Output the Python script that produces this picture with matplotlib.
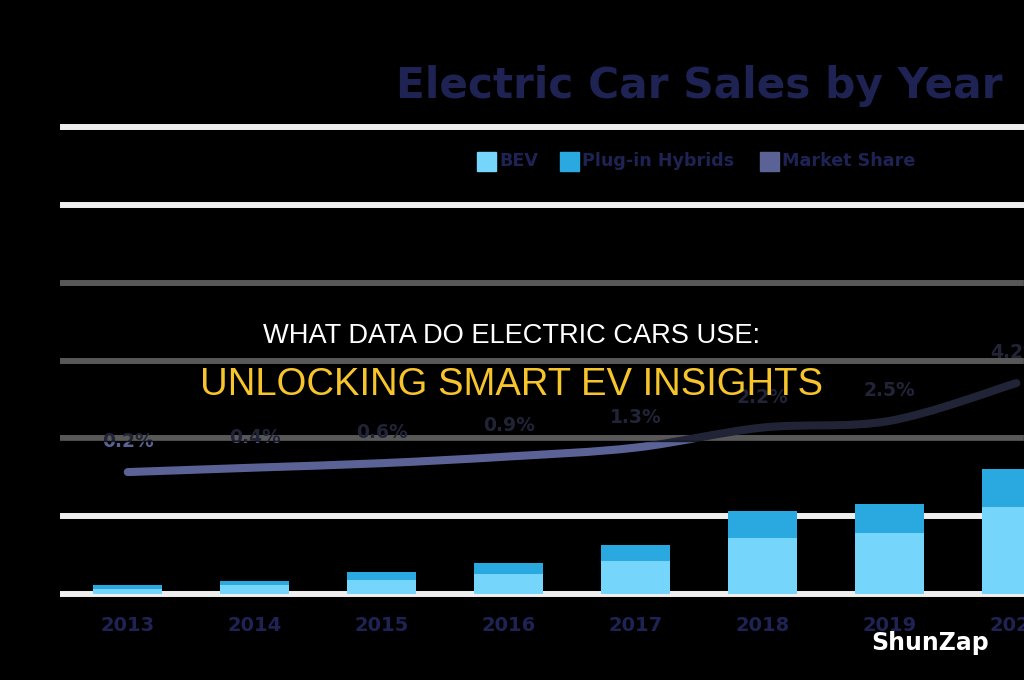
import matplotlib
matplotlib.use("Agg")
import matplotlib.pyplot as plt
from matplotlib.patches import Rectangle, PathPatch
from matplotlib.path import Path

# ---- data ----
years = ['2013', '2014', '2015', '2016', '2017', '2018', '2019', '2020']
bev = [32, 56, 88, 130, 212, 360, 392, 559]        # thousands (approx.)
phev = [26, 28, 53, 69, 103, 173, 186, 244]        # thousands (approx.)
share = [0.2, 0.4, 0.6, 0.9, 1.3, 2.2, 2.5, 4.2]   # market share, %
share_labels = ['0.2%', '0.4%', '0.6%', '0.9%', '1.3%', '2.2%', '2.5%', '4.2%']
legend_labels = ['BEV', 'Plug-in Hybrids', 'Market Share']

# ---- style ----
BG = '#000000'
GRID = '#efefef'
NAVY = '#1f2354'
C_BEV = '#76d5fa'
C_PHEV = '#29a9e0'
C_LINE = '#5b6396'
GOLD = '#f7c52b'

W, H = 1024, 680
def fx(px): return px / W
def fy(py): return 1 - py / H

fig = plt.figure(figsize=(10.24, 6.8), dpi=100, facecolor=BG)

ax = fig.add_axes([fx(63), fy(594), fx(1024) - fx(63), fy(127) - fy(594)])
ax.set_facecolor(BG)
x = list(range(len(years)))
step = 500
ax.set_ylim(0, 6 * step)
ax.set_xlim(-0.51, 7.06)
ax.set_yticks([i * step for i in range(7)])
ax.yaxis.grid(True, color=GRID, linewidth=4.3)
ax.set_axisbelow(True)
for gl in ax.get_ygridlines():
    gl.set_clip_on(False)
ax.tick_params(axis='y', length=0, labelleft=False)
ax.set_xticks(x)
ax.set_xticklabels(years, fontsize=14, fontweight='bold', color=NAVY)
ax.tick_params(axis='x', length=0, pad=16)
for s in ax.spines.values():
    s.set_visible(False)

ax.bar(x, bev, width=0.54, color=C_BEV, zorder=3)
ax.bar(x, phev, width=0.54, bottom=bev, color=C_PHEV, zorder=3)

ax2 = ax.twinx()
ax2.set_ylim(-5.28, 15.71)
ax2.set_xlim(ax.get_xlim())
ax2.set_axis_off()

# smooth (Bezier) line through the market-share points
pts = list(zip(x, share))
verts = [pts[0]]
codes = [Path.MOVETO]
n = len(pts)
for i in range(n - 1):
    p0 = pts[i - 1] if i > 0 else pts[i]
    p1 = pts[i]
    p2 = pts[i + 1]
    p3 = pts[i + 2] if i + 2 < n else pts[i + 1]
    c1 = (p1[0] + (p2[0] - p0[0]) / 6, p1[1] + (p2[1] - p0[1]) / 6)
    c2 = (p2[0] - (p3[0] - p1[0]) / 6, p2[1] - (p3[1] - p1[1]) / 6)
    verts += [c1, c2, p2]
    codes += [Path.CURVE4] * 3
ax2.add_patch(PathPatch(Path(verts, codes), facecolor='none', edgecolor=C_LINE,
                        linewidth=5.8, capstyle='round', joinstyle='round', zorder=4))

for xi, v, lab in zip(x, share, share_labels):
    ax2.annotate(lab, (xi, v), xytext=(0, 22), textcoords='offset points',
                 ha='center', va='center', fontsize=13.5, fontweight='bold',
                 color=C_LINE, annotation_clip=False)

# title
fig.text(fx(1003), fy(98), 'Electric Car Sales by Year', ha='right', va='baseline',
         fontsize=30.4, fontweight='bold', color=NAVY)

# legend (manual)
leg_colors = [C_BEV, C_PHEV, C_LINE]
sq_x = [477, 560, 760]
for lab, col, sx in zip(legend_labels, leg_colors, sq_x):
    fig.add_artist(Rectangle((fx(sx), fy(171)), fx(19), 19 / H,
                             transform=fig.transFigure, color=col))
    fig.text(fx(sx + 22), fy(161.5), lab, ha='left', va='center',
             fontsize=12.6, fontweight='bold', color=NAVY)

# overlay band
fig.add_artist(Rectangle((0, fy(441)), 1, (441 - 268) / H, transform=fig.transFigure,
                         color='black', alpha=0.63, zorder=10))
fig.text(0.5, fy(343), 'WHAT DATA DO ELECTRIC CARS USE:', ha='center', va='baseline',
         fontsize=19.6, color='white', family='Liberation Sans', zorder=11)
fig.text(0.5, fy(395), 'UNLOCKING SMART EV INSIGHTS', ha='center', va='baseline',
         fontsize=27.5, color=GOLD, family='Liberation Sans', zorder=11)

# watermark
fig.text(fx(930), fy(643), 'ShunZap', ha='center', va='center', fontsize=17,
         fontweight='bold', color='white', zorder=11)

fig.savefig('out.png', dpi=100, facecolor=BG)
